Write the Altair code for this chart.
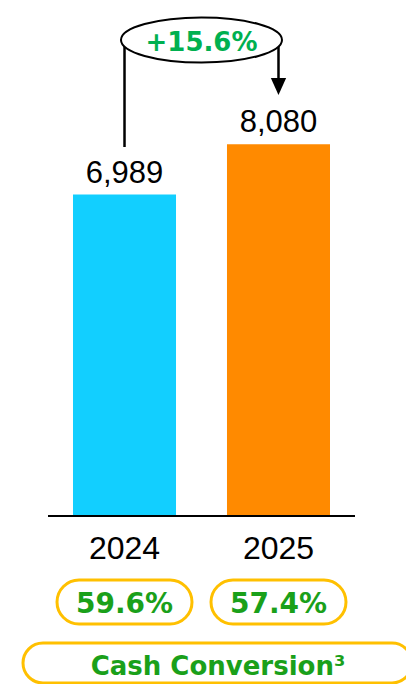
import altair as alt
import pandas as pd

# Chart values
years = ["2024", "2025"]
values = [6989, 8080]
value_labels = ["6,989", "8,080"]
conversion = ["59.6%", "57.4%"]
growth_label = "+15.6%"
footer_label = "Cash Conversion³"
bar_colors = ["#12CFFF", "#FF8A00"]

df = pd.DataFrame({
    "year": years,
    "value": values,
    "label": value_labels,
    "conv": conversion,
})

# Canvas and layout
W, H = 406, 684
BASE_PX = 516          # pixel row of the zero line
PX_PER_UNIT = 0.0460   # vertical pixels per unit


def v(py):
    """Convert a pixel row into a value on the shared y scale."""
    return (BASE_PX - py) / PX_PER_UNIT


x_scale = alt.Scale(domain=years, range=[47.5, 355.5],
                    paddingInner=0.331, paddingOuter=0.1656)
y_scale = alt.Scale(domain=[v(H), v(0)], nice=False, zero=False)

X = alt.X("year:N", scale=x_scale, axis=None)


def Yd(py):
    return alt.Y(datum=v(py), type="quantitative", scale=y_scale, axis=None)


def Y2d(py):
    return alt.Y2(datum=v(py))


GREEN = "#1AA01A"
BRIGHT_GREEN = "#00B050"
GOLD = "#FFC000"

base = alt.Chart(df)

bars = base.mark_bar().encode(
    x=X,
    y=alt.Y("value:Q", scale=y_scale, axis=None),
    y2=alt.Y2(datum=0),
    color=alt.Color("year:N", scale=alt.Scale(domain=years, range=bar_colors), legend=None),
)

baseline = base.mark_rule(color="black", strokeWidth=2).encode(
    x=alt.value(48), x2=alt.value(355),
    y=alt.Y(datum=0, type="quantitative", scale=y_scale, axis=None),
)

value_text = base.mark_text(font="Liberation Sans", fontSize=31, color="black",
                            baseline="alphabetic", dy=-12).encode(
    x=X,
    y=alt.Y("value:Q", scale=y_scale, axis=None),
    text="label:N",
)

year_text = base.mark_text(font="Liberation Sans", fontSize=32, color="black",
                           baseline="alphabetic").encode(
    x=X, y=Yd(559), text="year:N",
)

# Rounded outlines around the conversion rates
pills = base.mark_bar(width=135, cornerRadius=22, fill="white",
                      stroke=GOLD, strokeWidth=3).encode(
    x=X, y=Yd(580), y2=Y2d(624),
)

pct_text = base.mark_text(font="DejaVu Sans", fontWeight="bold", fontSize=28,
                          color=GREEN, baseline="alphabetic").encode(
    x=X, y=Yd(613), text="conv:N",
)

footer_pill = alt.Chart(pd.DataFrame({"t": [footer_label]})).mark_rect(
    cornerRadius=20, fill="white", stroke=GOLD, strokeWidth=3
).encode(
    x=alt.value(23), x2=alt.value(412), y=alt.value(643), y2=alt.value(683),
)

footer_text = alt.Chart(pd.DataFrame({"t": [footer_label]})).mark_text(
    font="DejaVu Sans", fontWeight="bold", fontSize=26, color=GREEN, baseline="alphabetic"
).encode(
    x=alt.value(218), y=alt.value(675), text="t:N",
)

# Growth connector: line up from 2024, across through the ellipse, down to 2025
left_leg = base.transform_filter(alt.datum.year == years[0]).mark_rule(
    color="black", strokeWidth=2.5
).encode(x=X, y=Yd(147), y2=Y2d(40))

right_leg = base.transform_filter(alt.datum.year == years[1]).mark_rule(
    color="black", strokeWidth=2.5
).encode(x=X, y=Yd(40), y2=Y2d(80))

arrow_head = base.transform_filter(alt.datum.year == years[1]).mark_point(
    shape="M -0.9 -1 L 0.9 -1 L 0 1 Z", size=289, filled=True,
    color="black", opacity=1
).encode(x=X, y=Yd(86.5))

ELLIPSE = ("M -1 0 C -1 -0.1546 -0.5523 -0.28 0 -0.28 "
           "C 0.5523 -0.28 1 -0.1546 1 0 "
           "C 1 0.1546 0.5523 0.28 0 0.28 "
           "C -0.5523 0.28 -1 0.1546 -1 0 Z")

growth_df = pd.DataFrame({"t": [growth_label]})
ellipse = alt.Chart(growth_df).mark_point(
    shape=ELLIPSE, size=161 * 161, filled=True, fill="white",
    stroke="black", strokeWidth=2, opacity=1
).encode(x=alt.value(201.5), y=alt.value(40))

growth_text = alt.Chart(growth_df).mark_text(
    font="DejaVu Sans", fontWeight="bold", fontSize=26, color=BRIGHT_GREEN,
    baseline="alphabetic"
).encode(x=alt.value(201.5), y=alt.value(51), text="t:N")

chart = alt.layer(
    bars, baseline, value_text, year_text, pills, pct_text,
    footer_pill, footer_text, left_leg, right_leg, arrow_head, ellipse, growth_text,
).properties(
    width=W, height=H,
    autosize=alt.AutoSizeParams(type="none"),
    padding=0,
).configure_view(stroke=None)

chart.save("out.html", embed_options={"renderer": "svg", "actions": False})
